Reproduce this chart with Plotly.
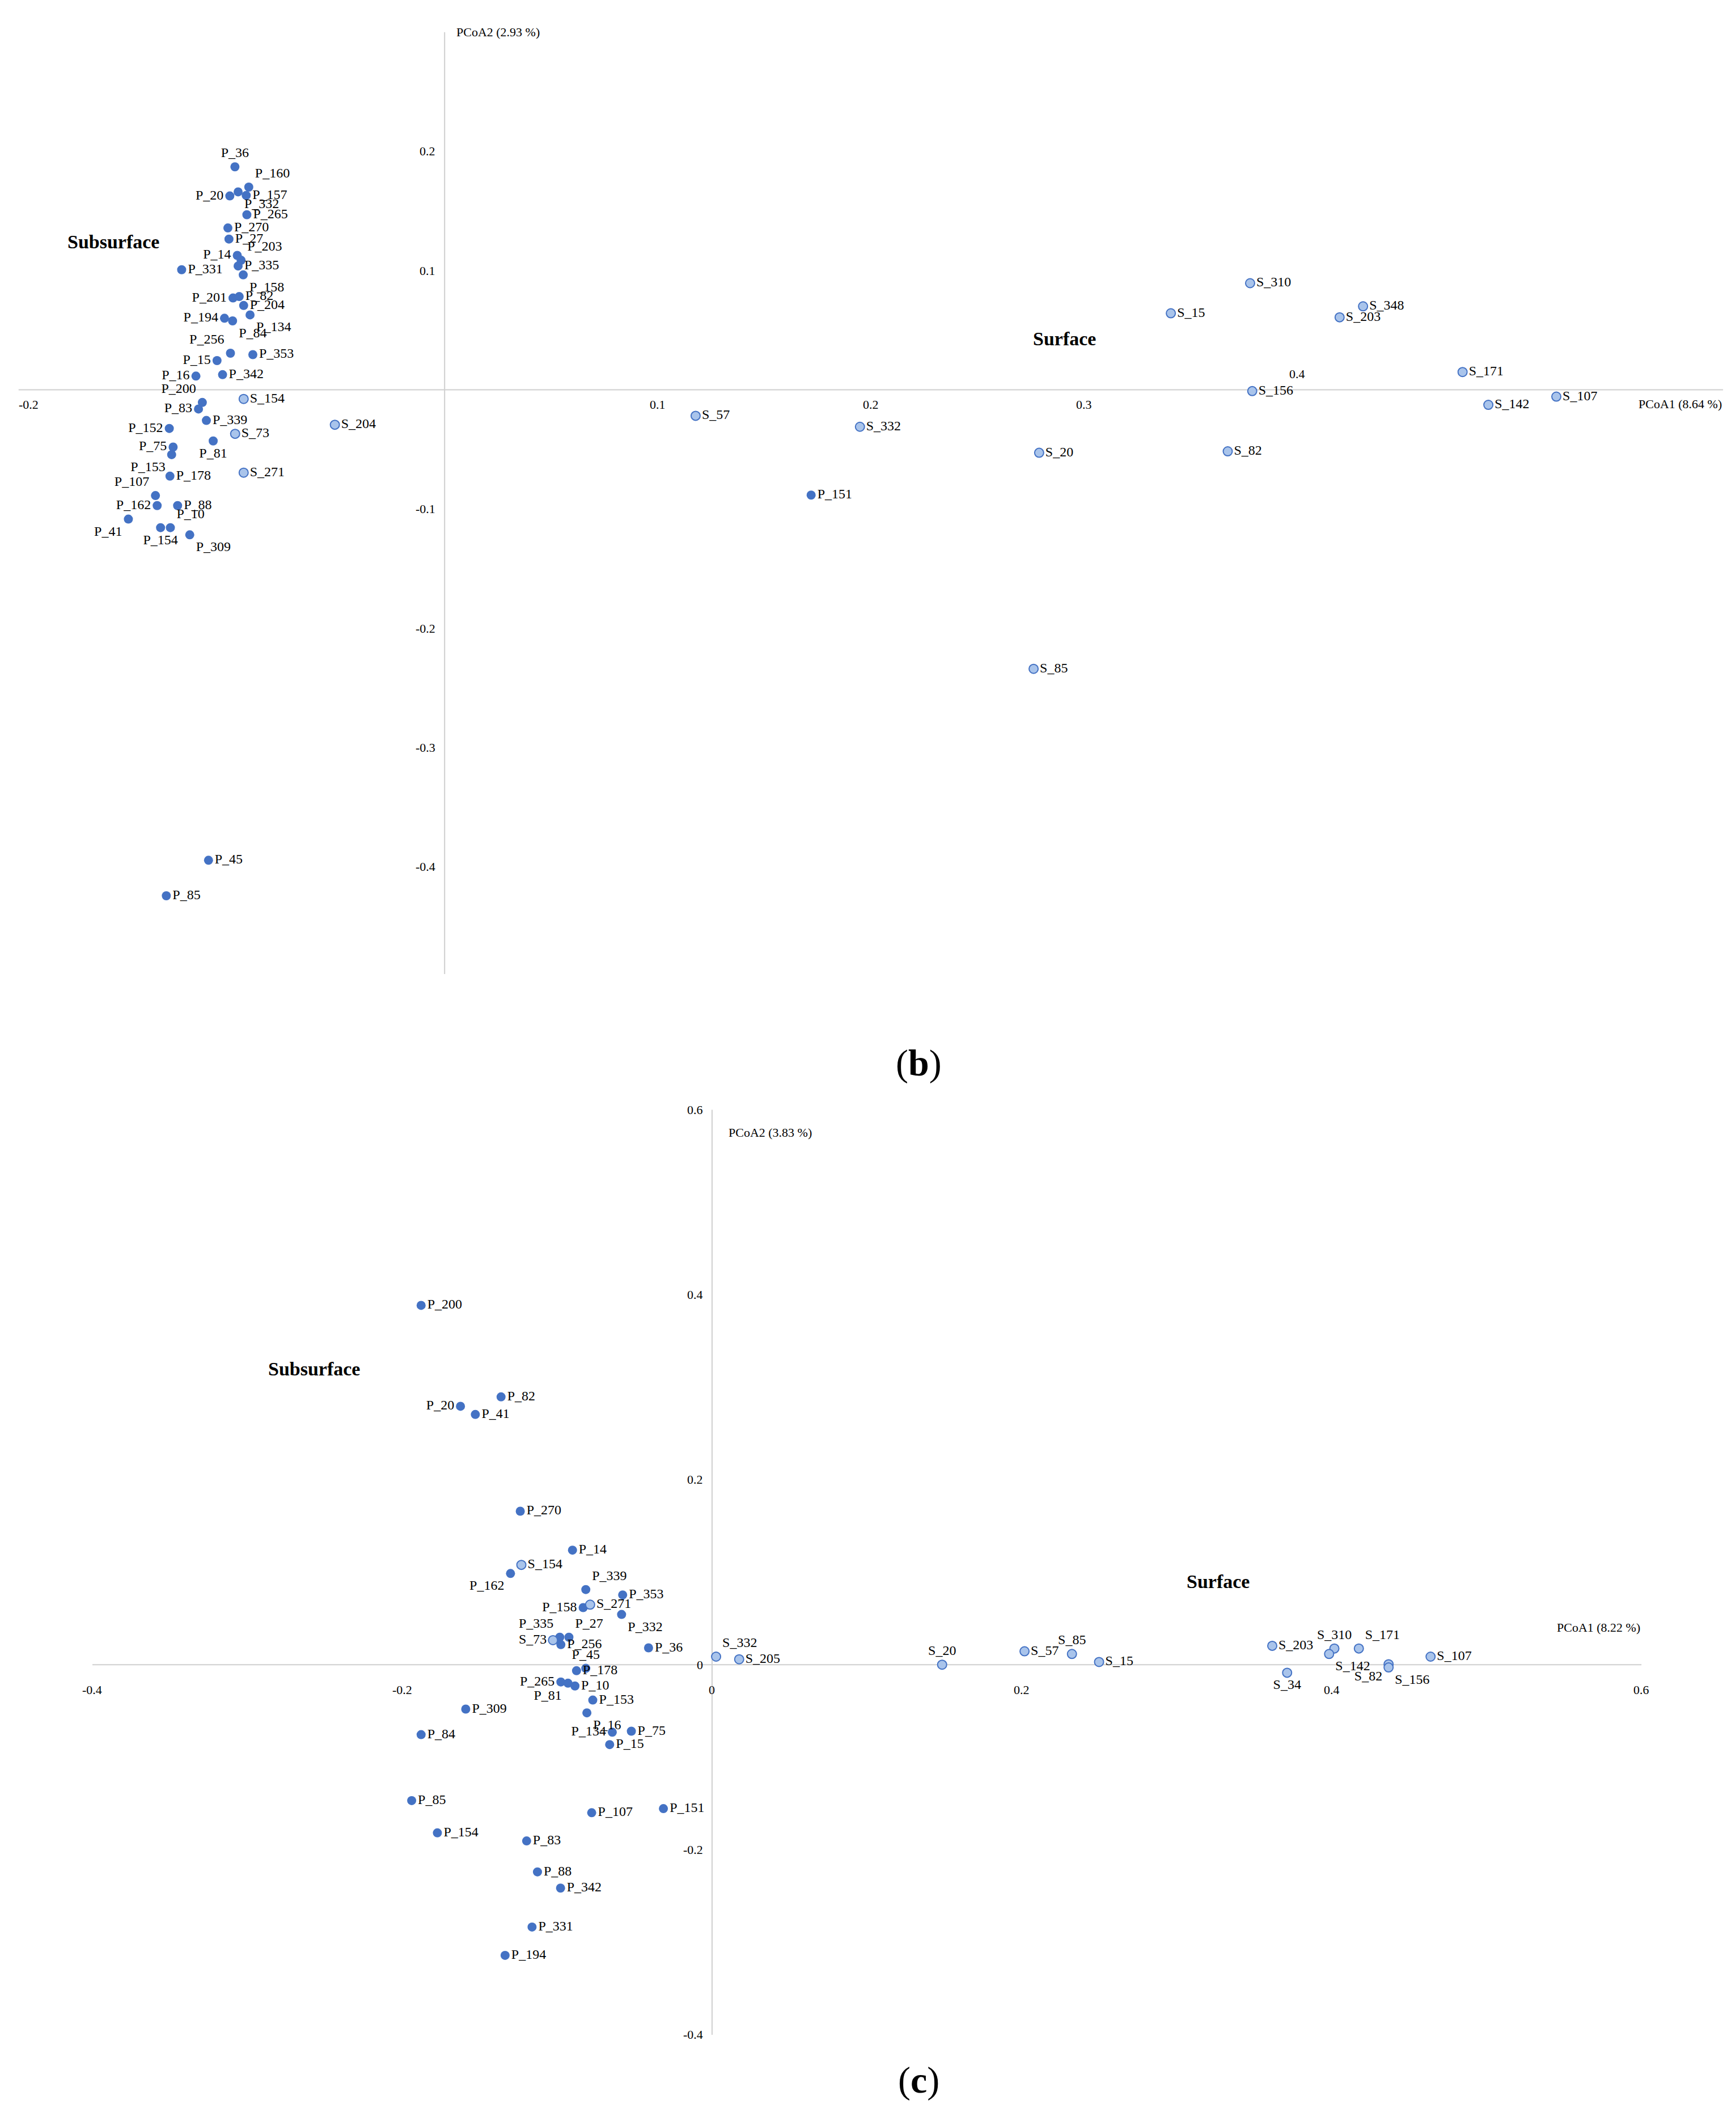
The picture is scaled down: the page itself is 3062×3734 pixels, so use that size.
import plotly.graph_objects as go

# ---------------- Panel (b) data ----------------
b_p_names = ["P_36","P_160","P_157","P_20","P_332","P_265","P_270","P_27","P_14","P_203","P_335","P_331",
             "P_158","P_201","P_82","P_204","P_134","P_194","P_84","P_256","P_353","P_15","P_342","P_16",
             "P_200","P_83","P_339","P_152","P_81","P_75","P_153","P_178","P_107","P_162","P_88","P_41",
             "P_10","P_154","P_309","P_151","P_45","P_85"]
b_p_x = [-0.0984,-0.0919,-0.0931,-0.1008,-0.0969,-0.0928,-0.1017,-0.1012,-0.0973,-0.0955,-0.0969,-0.1234,
         -0.0945,-0.0993,-0.0964,-0.0943,-0.0913,-0.1033,-0.0995,-0.1005,-0.0900,-0.1068,-0.1042,-0.1167,
         -0.1137,-0.1155,-0.1118,-0.1292,-0.1086,-0.1274,-0.1281,-0.1289,-0.1357,-0.1349,-0.1253,-0.1484,
         -0.1287,-0.1333,-0.1196,0.172,-0.1108,-0.1306]
b_p_y = [0.187,0.170,0.163,0.1626,0.166,0.1468,0.1357,0.1264,0.1127,0.1086,0.1038,0.1007,
         0.0964,0.077,0.0782,0.0707,0.0628,0.060,0.0578,0.0307,0.0295,0.0245,0.0127,0.0115,
         -0.0106,-0.0161,-0.0257,-0.0324,-0.0429,-0.048,-0.0544,-0.0724,-0.0887,-0.0971,-0.0971,-0.1084,
         -0.1156,-0.1156,-0.1216,-0.0883,-0.3945,-0.4243]
b_s_names = ["S_154","S_204","S_73","S_271","S_57","S_332","S_20","S_85","S_15","S_310","S_156","S_82",
             "S_348","S_203","S_171","S_142","S_107"]
b_s_x = [-0.0943,-0.0515,-0.0983,-0.0943,0.1178,0.1949,0.279,0.2764,0.3408,0.378,0.379,0.3675,
         0.431,0.420,0.4777,0.4898,0.5217]
b_s_y = [-0.0077,-0.0293,-0.0369,-0.0695,-0.0218,-0.031,-0.0528,-0.234,0.0642,0.0894,-0.0011,-0.0516,
         0.070,0.0608,0.0149,-0.0126,-0.0057]
b_xticks = [-0.2, 0.1, 0.2, 0.3, 0.4]
b_yticks = [0.2, 0.1, -0.1, -0.2, -0.3, -0.4]

# ---------------- Panel (c) data ----------------
c_p_names = ["P_200","P_20","P_82","P_41","P_270","P_14","P_162","P_339","P_353","P_158","P_332","P_335",
             "P_27","P_256","P_36","P_45","P_178","P_265","P_81","P_10","P_153","P_16","P_134","P_75",
             "P_15","P_309","P_84","P_85","P_154","P_107","P_151","P_83","P_88","P_342","P_331","P_194"]
c_p_x = [-0.1878,-0.1624,-0.1362,-0.1528,-0.1238,-0.0901,-0.1301,-0.0815,-0.0577,-0.0832,-0.0584,-0.0983,
         -0.0924,-0.0976,-0.041,-0.0815,-0.0875,-0.0976,-0.0930,-0.0885,-0.077,-0.0808,-0.0644,-0.0521,
         -0.0661,-0.159,-0.1878,-0.1939,-0.1773,-0.0777,-0.0314,-0.1197,-0.1127,-0.0978,-0.1162,-0.1336]
c_p_y = [0.3884,0.2793,0.2895,0.2705,0.1659,0.1238,0.0986,0.0812,0.0754,0.0617,0.0543,0.0297,
         0.0297,0.0217,0.0182,-0.0039,-0.0065,-0.0187,-0.0200,-0.023,-0.0382,-0.0521,-0.073,-0.0719,
         -0.0864,-0.048,-0.0756,-0.1469,-0.1818,-0.16,-0.1556,-0.1905,-0.224,-0.2415,-0.2836,-0.3142]
c_s_names = ["S_154","S_271","S_73","S_332","S_205","S_20","S_57","S_85","S_15","S_203","S_34","S_310",
             "S_142","S_171","S_82","S_156","S_107"]
c_s_x = [-0.1231,-0.0787,-0.1027,0.0026,0.0175,0.1485,0.2017,0.2323,0.2498,0.3616,0.3712,0.4017,
         0.3983,0.4175,0.4367,0.4367,0.4638]
c_s_y = [0.1079,0.0649,0.0265,0.0087,0.0058,0.0,0.0145,0.0116,0.0029,0.0204,-0.0087,0.0175,
         0.0116,0.0175,0.0005,-0.003,0.0087]
c_xticks = [-0.4, -0.2, 0, 0.2, 0.4, 0.6]
c_yticks = [0.6, 0.4, 0.2, 0, -0.2, -0.4]

# ---------------- label positions ----------------
b_pos = {"P_36":"top center","P_160":"top right","P_20":"middle left","P_332":"bottom right",
         "P_14":"middle left","P_203":"top right","P_331":"middle right","P_158":"bottom right",
         "P_201":"middle left","P_82":"middle right","P_204":"middle right","P_134":"bottom right","P_194":"middle left",
         "P_84":"bottom right","P_256":"top left","P_15":"middle left","P_16":"middle left",
         "P_200":"top left","P_83":"middle left","P_152":"middle left","P_75":"middle left",
         "P_153":"bottom left","P_81":"bottom center","P_107":"top left","P_162":"middle left",
         "P_41":"bottom left","P_10":"top right","P_154":"bottom center","P_309":"bottom right"}
c_pos = {"P_20":"middle left","P_162":"bottom left","P_158":"middle left","P_335":"top left",
         "S_73":"middle left","P_339":"top right","P_45":"top center","P_265":"middle left",
         "P_81":"bottom left","P_16":"bottom right","P_134":"middle left","P_27":"top right",
         "P_256":"middle right","P_332":"bottom right","S_332":"top right","S_20":"top center",
         "S_85":"top center","S_34":"bottom center","S_310":"top center","S_142":"bottom right",
         "S_82":"bottom left","S_156":"bottom right","S_171":"top right","S_271":"middle right"}

DARK = "#4472C4"
LIGHT = "#A9C4EB"
FONT = "Liberation Serif"
LBL = 24

fig = go.Figure()

def add_pts(names, xs, ys, pos, light, xa, ya):
    fig.add_trace(go.Scatter(
        x=xs, y=ys, text=names, mode="markers+text",
        textposition=[pos.get(n, "middle right") for n in names],
        textfont=dict(family=FONT, size=LBL, color="black"),
        marker=dict(size=16, color=LIGHT if light else DARK,
                    line=dict(color=DARK, width=2 if light else 0)),
        xaxis=xa, yaxis=ya, showlegend=False, cliponaxis=False))

add_pts(b_p_names, b_p_x, b_p_y, b_pos, False, "x", "y")
add_pts(b_s_names, b_s_x, b_s_y, b_pos, True, "x", "y")
add_pts(c_p_names, c_p_x, c_p_y, c_pos, False, "x2", "y2")
add_pts(c_s_names, c_s_x, c_s_y, c_pos, True, "x2", "y2")

ax = dict(visible=False, showgrid=False, zeroline=False)
fig.update_layout(
    width=3062, height=3734, plot_bgcolor="white", paper_bgcolor="white",
    font=dict(family=FONT, color="black"),
    margin=dict(l=0, r=0, t=0, b=0),
    xaxis=dict(ax, domain=[0.008, 0.99], range=[-0.2, 0.6]),
    yaxis=dict(ax, domain=[0.542, 0.987], range=[-0.49, 0.3]),
    xaxis2=dict(ax, domain=[0.0506, 0.943], range=[-0.4, 0.6]),
    yaxis2=dict(ax, domain=[0.041, 0.478], range=[-0.4, 0.6]),
)

line = dict(color="#CFCFCF", width=2)
shapes = [
    dict(type="line", xref="x", yref="y", x0=-0.2, x1=0.6, y0=0, y1=0, line=line, layer="below"),
    dict(type="line", xref="x", yref="y", x0=0, x1=0, y0=-0.49, y1=0.3, line=line, layer="below"),
    dict(type="line", xref="x2", yref="y2", x0=-0.4, x1=0.6, y0=0, y1=0, line=line, layer="below"),
    dict(type="line", xref="x2", yref="y2", x0=0, x1=0, y0=-0.4, y1=0.6, line=line, layer="below"),
]
ann = []
tf = dict(family=FONT, size=22, color="black")
for t in b_xticks:
    if t == 0.4:
        ann.append(dict(x=t, y=0, xref="x", yref="y", text=f"{t:g}", showarrow=False, yshift=28, font=tf))
    else:
        ann.append(dict(x=t, y=0, xref="x", yref="y", text=f"{t:g}", showarrow=False, yshift=-26,
                        xshift=18 if t == -0.2 else 0, font=tf))
for t in b_yticks:
    ann.append(dict(x=0, y=t, xref="x", yref="y", text=f"{t:g}", showarrow=False, xanchor="right", xshift=-14, font=tf))
for t in c_xticks:
    ann.append(dict(x=t, y=0, xref="x2", yref="y2", text=f"{t:g}", showarrow=False, yshift=-44, font=tf))
for t in c_yticks:
    ann.append(dict(x=0, y=t, xref="x2", yref="y2", text=f"{t:g}", showarrow=False, xanchor="right", xshift=-14, font=tf))

bf = dict(family=FONT, size=34, color="black")
ann += [
    dict(x=0.005, y=0.3, xref="x", yref="y", text="PCoA2 (2.93 %)", showarrow=False, xanchor="left", yanchor="middle", font=tf),
    dict(x=0.6, y=-0.012, xref="x", yref="y", text="PCoA1 (8.64 %)", showarrow=False, xanchor="right", font=tf),
    dict(x=0.01, y=0.575, xref="x2", yref="y2", text="PCoA2 (3.83 %)", showarrow=False, xanchor="left", font=tf),
    dict(x=0.6, y=0.04, xref="x2", yref="y2", text="PCoA1 (8.22 %)", showarrow=False, xanchor="right", font=tf),
    dict(x=-0.1555, y=0.124, xref="x", yref="y", text="<b>Subsurface</b>", showarrow=False, font=bf),
    dict(x=0.291, y=0.043, xref="x", yref="y", text="<b>Surface</b>", showarrow=False, font=bf),
    dict(x=-0.257, y=0.32, xref="x2", yref="y2", text="<b>Subsurface</b>", showarrow=False, font=bf),
    dict(x=0.3265, y=0.09, xref="x2", yref="y2", text="<b>Surface</b>", showarrow=False, font=bf),
    dict(x=0.5265, y=0.5, xref="paper", yref="paper", yanchor="middle", text="(<b>b</b>)", showarrow=False, font=dict(family=FONT, size=66, color="black")),
    dict(x=0.5265, y=0.0195, xref="paper", yref="paper", yanchor="middle", text="(<b>c</b>)", showarrow=False, font=dict(family=FONT, size=66, color="black")),
]
fig.update_layout(shapes=shapes, annotations=ann)
fig.write_html("out.html")
